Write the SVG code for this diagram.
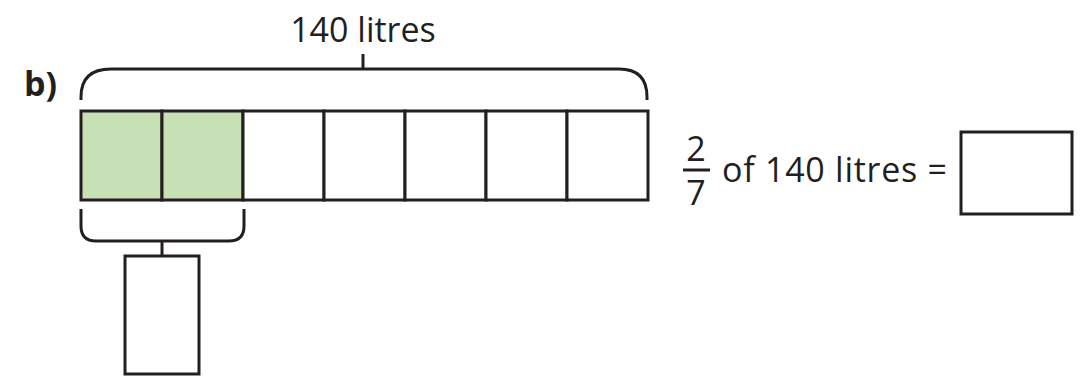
<svg xmlns="http://www.w3.org/2000/svg" width="1087" height="377" viewBox="0 0 1087 377">
<style>
.ln{fill:none;stroke:#231f20;stroke-width:3}
.cell{stroke:#231f20;stroke-width:3}
.t{font-family:"Open Sans","Noto Sans",sans-serif;font-size:34px;fill:#231f20}
.b{font-family:"Open Sans","Noto Sans",sans-serif;font-size:34px;font-weight:bold;fill:#231f20}
</style>
<rect width="1087" height="377" fill="#fff"/>
<g id="label-b"><text class="b" x="24" y="96">b)</text></g>
<g id="total-label"><text class="t" x="363" y="42" text-anchor="middle">140 litres</text></g>
<g id="bar">
<rect class="cell" x="81" y="111" width="81" height="89" fill="#c8e0b6"/>
<rect class="cell" x="162" y="111" width="81" height="89" fill="#c8e0b6"/>
<rect class="cell" x="243" y="111" width="81" height="89" fill="#fff"/>
<rect class="cell" x="324" y="111" width="81" height="89" fill="#fff"/>
<rect class="cell" x="405" y="111" width="81" height="89" fill="#fff"/>
<rect class="cell" x="486" y="111" width="81" height="89" fill="#fff"/>
<rect class="cell" x="567" y="111" width="81" height="89" fill="#fff"/>
</g>
<g id="connectors">
<path class="ln" d="M81,100 L81,97 Q81,69 111,69 L619,69 Q647,69 647,97 L647,100"/>
<path class="ln" d="M363,69 L363,54"/>
<path class="ln" d="M81,209 L81,226 Q81,241 96,241 L229,241 Q244,241 244,226 L244,209"/>
<path class="ln" d="M162,241 L162,256"/>
</g>
<g id="part-box"><rect class="ln" x="125" y="256" width="74" height="118"/></g>
<g id="equation">
<text class="t" x="696" y="161" text-anchor="middle">2</text>
<path class="ln" d="M683,170 L710,170" stroke-width="2.5"/>
<text class="t" x="696" y="205" text-anchor="middle">7</text>
<text class="t" x="722" y="182" textLength="225" lengthAdjust="spacing">of 140 litres =</text>
</g>
<g id="answer-box"><rect class="ln" x="961" y="132" width="111" height="82"/></g>
</svg>
